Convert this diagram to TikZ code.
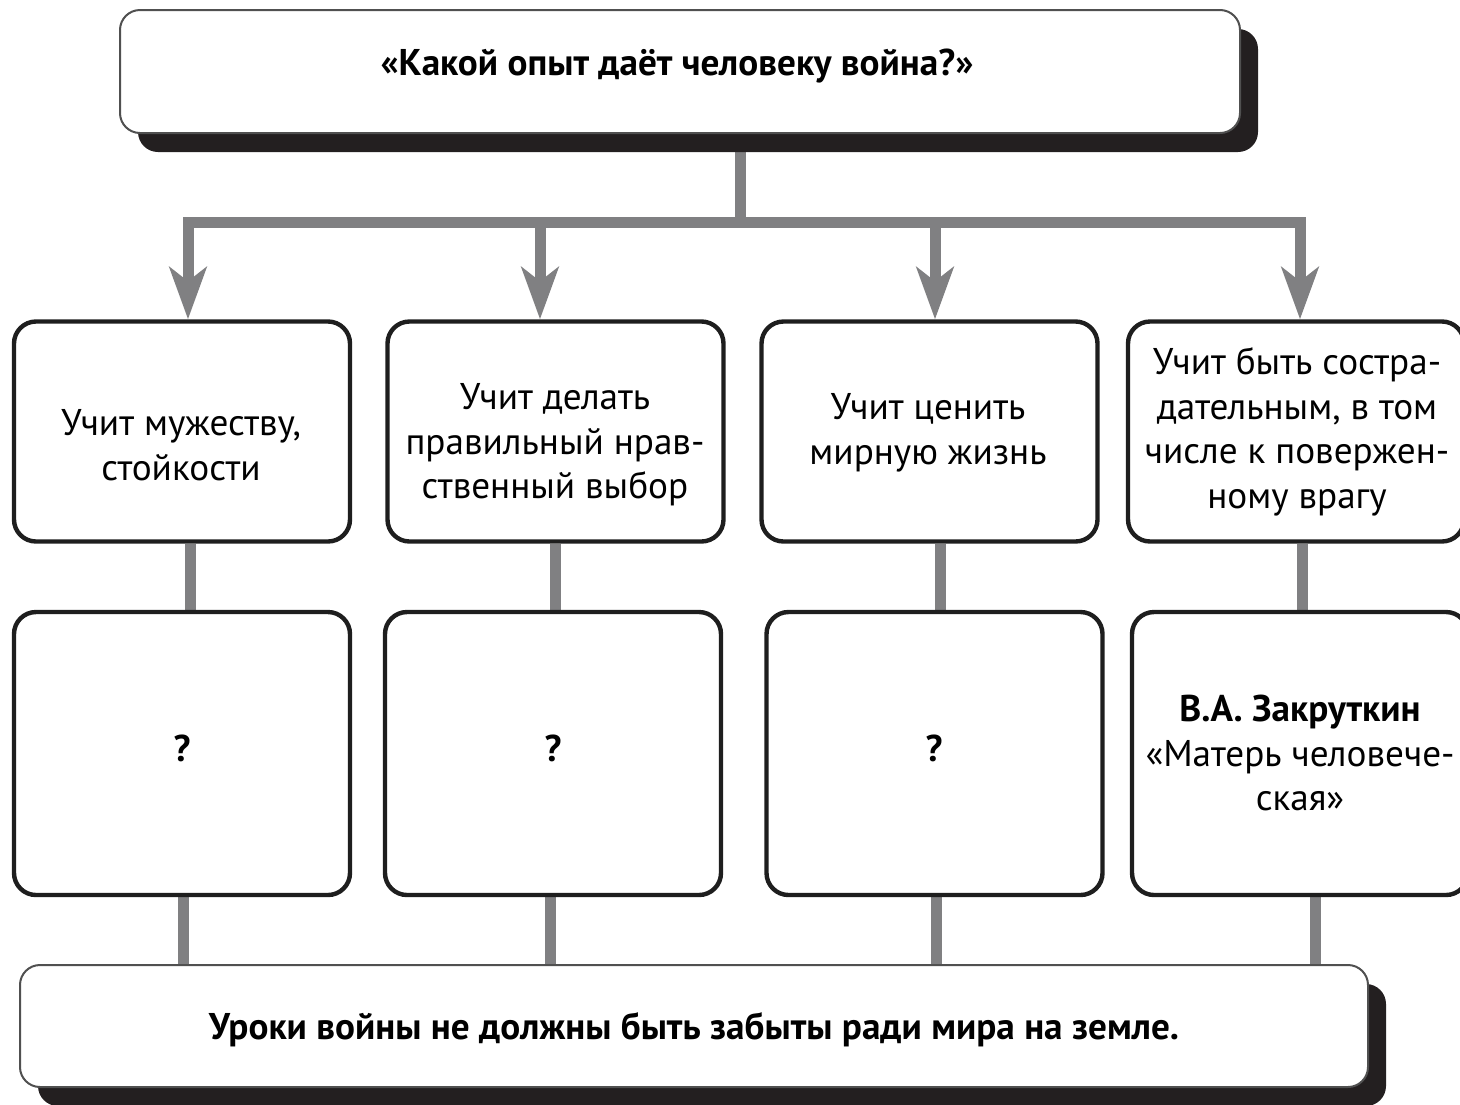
\documentclass[tikz,border=0pt]{standalone}
\usepackage{fontspec}
\setmainfont{PT Sans}
\usetikzlibrary{arrows.meta,shadows}
\definecolor{conn}{RGB}{128,128,130}
\definecolor{shad}{RGB}{35,31,32}
\definecolor{edge}{RGB}{30,30,30}
\definecolor{thinedge}{RGB}{80,80,80}
\pgfdeclarelayer{bg}
\pgfsetlayers{bg,main}
\begin{document}
\begin{tikzpicture}[x=0.5pt,y=-0.5pt,
 mainbox/.style={draw=thinedge, line width=1pt, fill=white, rounded corners=10pt,
   drop shadow={shadow xshift=9pt, shadow yshift=-9.5pt, fill=shad, opacity=1}, inner sep=0pt},
 cell/.style={draw=edge, line width=2.2pt, fill=white, rounded corners=11pt, minimum width=168pt, inner sep=0pt},
 rowa/.style={cell, minimum height=110pt},
 rowb/.style={cell, minimum height=141.5pt},
 txt/.style={align=center, font=\fontsize{18.6}{22.3}\selectfont, inner sep=0pt},
 btxt/.style={align=center, font=\fontsize{18.6}{22.3}\selectfont\bfseries, inner sep=0pt},
 link/.style={draw=conn, line width=5.5pt},
 arr/.style={link, -{Stealth[length=26pt,width=18.5pt,inset=7pt]}},
]
\useasboundingbox (0,0) rectangle (1460,1104);

% main boxes
\node[mainbox, minimum width=560pt, minimum height=61.5pt] (q) at (680,71.5) {};
\node[mainbox, minimum width=674pt, minimum height=61pt] (z) at (694,1026) {};

% row 1
\node[rowa] (a1) at (182,431.5) {};
\node[rowa] (a2) at (555.5,431.5) {};
\node[rowa] (a3) at (929.5,431.5) {};
\node[rowa] (a4) at (1296,431.5) {};
% row 2
\node[rowb] (b1) at (182,753.5) {};
\node[rowb] (b2) at (553,753.5) {};
\node[rowb] (b3) at (934.5,753.5) {};
\node[rowb] (b4) at (1300,753.5) {};

% texts
\node[btxt] (tq) at (677,66) {«Какой опыт даёт человеку война?»};
\node[btxt] (tz) at (694,1030) {Уроки войны не должны быть забыты ради мира на земле.};
\node[txt] (ta1) at (181,445) {Учит мужеству,\\стойкости};
\node[txt] (ta2) at (555,445) {Учит делать\\правильный нрав-\\ственный выбор};
\node[txt] (ta3) at (928,433) {Учит ценить\\мирную жизнь};
\node[txt] (ta4) at (1297,432) {Учит быть состра-\\дательным, в том\\числе к повержен-\\ному врагу};
\node[btxt] (tb1) at (182,748) {?};
\node[btxt] (tb2) at (553,748) {?};
\node[btxt] (tb3) at (934,748) {?};
\node[txt] (tb4) at (1300,753) {\textbf{В.А. Закруткин}\\«Матерь человече-\\ская»};

% connectors
\coordinate (j0) at (740,222);
\coordinate (j1) at (188,222);
\coordinate (j2) at (540,222);
\coordinate (j3) at (935,222);
\coordinate (j4) at (1300,222);
\begin{pgfonlayer}{bg}
\draw[link] (j0 |- q.south) -- (j0);
\draw[link, line cap=rect] (j1) -- (j4);
\draw[link] ([xshift=4pt]a1.south) -- ([xshift=4pt]a1.south |- b1.north);
\draw[link] ([xshift=0pt]a2.south) -- ([xshift=0pt]a2.south |- b2.north);
\draw[link] ([xshift=5.25pt]a3.south) -- ([xshift=5.25pt]a3.south |- b3.north);
\draw[link] ([xshift=3pt]a4.south) -- ([xshift=3pt]a4.south |- b4.north);
\draw[link] ([xshift=0.5pt]b1.south) -- ([xshift=0.5pt]b1.south |- z.north);
\draw[link] ([xshift=-1.5pt]b2.south) -- ([xshift=-1.5pt]b2.south |- z.north);
\draw[link] ([xshift=0.75pt]b3.south) -- ([xshift=0.75pt]b3.south |- z.north);
\draw[link] ([xshift=7.5pt]b4.south) -- ([xshift=7.5pt]b4.south |- z.north);
\end{pgfonlayer}
\draw[arr] (j1) -- (j1 |- a1.north);
\draw[arr] (j2) -- (j2 |- a2.north);
\draw[arr] (j3) -- (j3 |- a3.north);
\draw[arr] (j4) -- (j4 |- a4.north);
\end{tikzpicture}
\end{document}
